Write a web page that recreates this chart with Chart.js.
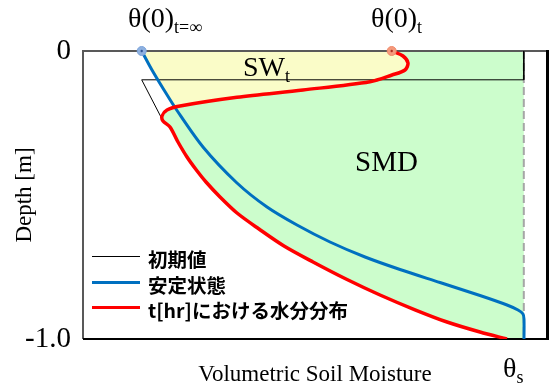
<!DOCTYPE html>
<html>
<head>
<meta charset="utf-8">
<script src="https://cdn.jsdelivr.net/npm/chart.js@4.4.1/dist/chart.umd.min.js"></script>
<style>
  body { margin: 0; background: #fff; }
  #wrap { position: relative; width: 549px; height: 389px; }
  .lbl { position: absolute; font-family: 'Liberation Serif', serif; font-size: 28px; line-height: 1; white-space: nowrap; color: #000; }
  .lbl .sub { font-size: 18px; position: relative; top: 6px; }
  #legend { position: absolute; left: 92px; top: 246px; font-family: 'Noto Sans CJK JP', sans-serif; font-weight: bold; font-size: 19.5px; color: #000; }
  #legend .row { height: 25.5px; display: flex; align-items: center; white-space: nowrap; }
  #legend .key { display: inline-block; width: 48px; margin-right: 8px; margin-top: -4px; }
</style>
</head>
<body>
<div id="wrap">
  <canvas id="chart" width="549" height="389"></canvas>
  <div class="lbl" style="left:128px; top:4px;">θ(0)<span class="sub">t=∞</span></div>
  <div class="lbl" style="left:371px; top:4px;">θ(0)<span class="sub">t</span></div>
  <div class="lbl" style="left:243px; top:53px;">SW<span class="sub">t</span></div>
  <div class="lbl" style="left:355px; top:147px; font-size:29px;">SMD</div>
  <div class="lbl" style="left:503px; top:354px;">θ<span class="sub">s</span></div>
  <div id="legend"></div>
</div>
<script>
// series names and colours
const seriesNames = ["初期値", "安定状態", "t[hr]における水分分布"];
const seriesColors = ["#000000", "#0070C0", "#FF0000"];
const seriesWidths = [1, 3, 3.5];

// axis
const depthTicks = [0, -1];
const depthTickLabels = ["0", "-1.0"];
const thetaS = 0.95;

// 初期値
const initialX = [0.95, 0.95, 0.1265, 0.168];
const initialY = [0, -0.1, -0.1, -0.229];

// 安定状態
const steadyX = [0.1265, 0.1487, 0.1746, 0.2019, 0.2586, 0.3319, 0.3966, 0.4612, 0.5323, 0.6078, 0.6832, 0.7694, 0.8556, 0.9138, 0.9375, 0.9483, 0.9504, 0.9504];
const steadyY = [0, -0.066, -0.1354, -0.2049, -0.3333, -0.4583, -0.5417, -0.6042, -0.6632, -0.7153, -0.7587, -0.8038, -0.8490, -0.8819, -0.8993, -0.9132, -0.9306, -1.0];

// t[hr]における水分分布
const currentX = [0.6653, 0.6897, 0.7004, 0.6940, 0.6659, 0.6185, 0.4741, 0.3319, 0.2091, 0.1810, 0.1703, 0.1724, 0.1875, 0.2047, 0.2241, 0.2435, 0.2651, 0.2953, 0.3319, 0.3793, 0.4332, 0.4957, 0.5668, 0.6401, 0.7155, 0.7845, 0.8556, 0.9138];
const currentY = [0, -0.0174, -0.0417, -0.0660, -0.0833, -0.1066, -0.1354, -0.1608, -0.1910, -0.2049, -0.2257, -0.2431, -0.2639, -0.3160, -0.3681, -0.4115, -0.4549, -0.5069, -0.5625, -0.6181, -0.6771, -0.7326, -0.7917, -0.8472, -0.8986, -0.9410, -0.9757, -1.0];

// where the two curves cross
const crossX = 0.1985;
const crossY = -0.196;

const pts = (xs, ys) => xs.map((x, i) => ({ x: x, y: ys[i] }));
const steady = pts(steadyX, steadyY);
const current = pts(currentX, currentY);
const cross = { x: crossX, y: crossY };

// SWt region: steady on the left, current profile on the right
const swPoly = steady.filter(p => p.y > crossY)
    .concat([cross, cross])
    .concat(current.filter(p => p.y > crossY).reverse());

// SMD region: right of the current profile up to theta_s
const smdPoly = current.concat([
    { x: thetaS, y: -1 }, { x: thetaS, y: -1 },
    { x: thetaS, y: 0 }, { x: thetaS, y: 0 },
]);

// legend
const legend = document.getElementById("legend");
seriesNames.forEach((name, i) => {
    const row = document.createElement("div");
    row.className = "row";
    row.innerHTML = `<span class="key" style="border-top:${seriesWidths[i]}px solid ${seriesColors[i]}"></span>${name}`;
    legend.appendChild(row);
});

// plot frame, drawn above the fills
const framePlugin = {
    id: "frame",
    afterDatasetDraw(chart, args) {
        if (chart.data.datasets[args.index].label !== "SMD") return;
        const { left, right, top, bottom } = chart.chartArea;
        const ctx = chart.ctx;
        ctx.save();
        ctx.lineWidth = 2;
        ctx.strokeStyle = "#595959";
        ctx.beginPath();
        ctx.moveTo(left, bottom);
        ctx.lineTo(left, top);
        ctx.lineTo(right, top);
        ctx.stroke();
        ctx.strokeStyle = "#000";
        ctx.beginPath();
        ctx.moveTo(left, bottom);
        ctx.lineTo(right, bottom);
        ctx.stroke();
        ctx.lineWidth = 3;
        ctx.beginPath();
        ctx.moveTo(right + 0.5, top - 1);
        ctx.lineTo(right + 0.5, bottom + 1);
        ctx.stroke();
        ctx.restore();
    }
};

const serif = "'Liberation Serif', serif";
const curveTension = 0.3;

new Chart(document.getElementById("chart"), {
    type: "scatter",
    data: {
        datasets: [
            {
                label: "SWt",
                data: swPoly,
                showLine: true,
                fill: "shape",
                backgroundColor: "#FAFCC8",
                borderWidth: 0,
                pointRadius: 0,
                tension: curveTension,
                order: 11,
            },
            {
                label: "SMD",
                data: smdPoly,
                showLine: true,
                fill: "shape",
                backgroundColor: "#CCFDCC",
                borderWidth: 0,
                pointRadius: 0,
                tension: curveTension,
                order: 10,
            },
            {
                label: "theta_s",
                data: [{ x: thetaS, y: 0 }, { x: thetaS, y: -1 }],
                showLine: true,
                borderColor: "#A6A6A6",
                borderWidth: 2,
                borderDash: [8, 4],
                pointRadius: 0,
                order: 8,
            },
            {
                label: seriesNames[0],
                data: pts(initialX, initialY),
                showLine: true,
                borderColor: seriesColors[0],
                borderWidth: seriesWidths[0],
                pointRadius: 0,
                order: 5,
            },
            {
                label: seriesNames[1],
                data: steady,
                showLine: true,
                borderColor: seriesColors[1],
                borderWidth: seriesWidths[1],
                pointRadius: 0,
                tension: curveTension,
                order: 4,
            },
            {
                label: seriesNames[2],
                data: current,
                showLine: true,
                borderColor: seriesColors[2],
                borderWidth: seriesWidths[2],
                pointRadius: 0,
                tension: curveTension,
                order: 3,
            },
            {
                label: "surface",
                data: [steady[0], current[0]],
                pointRadius: 4.5,
                pointBackgroundColor: ["#8EB1E0", "#F59A7C"],
                pointBorderColor: ["#7BA3DA", "#F08A6A"],
                pointBorderWidth: 1,
                clip: false,
                order: 2,
            },
            {
                label: "surface centre",
                data: [steady[0], current[0]],
                pointRadius: 1.2,
                pointBackgroundColor: ["#2F5597", "#B03020"],
                pointBorderWidth: 0,
                clip: false,
                order: 1,
            },
        ],
    },
    options: {
        responsive: false,
        animation: false,
        events: [],
        layout: { autoPadding: false, padding: { left: 0, right: 2, top: 51, bottom: 0 } },
        plugins: {
            legend: { display: false },
            tooltip: { enabled: false },
        },
        scales: {
            x: {
                type: "linear",
                min: 0,
                max: 1,
                grid: { display: false, drawTicks: false },
                border: { display: false },
                ticks: { display: false },
                title: {
                    display: true,
                    text: "Volumetric Soil Moisture",
                    color: "#000",
                    font: { family: serif, size: 23 },
                    padding: { top: 0, bottom: 0 },
                },
                afterFit: (scale) => { scale.height = 50; },
            },
            y: {
                min: -1,
                max: 0,
                grid: { display: false, drawTicks: false },
                border: { display: false },
                afterBuildTicks: (scale) => { scale.ticks = depthTicks.map(v => ({ value: v })); },
                ticks: {
                    color: "#000",
                    padding: 12,
                    font: { family: serif, size: 29 },
                    callback: (v) => depthTickLabels[depthTicks.indexOf(v)],
                },
                title: {
                    display: true,
                    text: "Depth [m]",
                    color: "#000",
                    font: { family: serif, size: 23 },
                    padding: { top: 11, bottom: 0 },
                },
                afterFit: (scale) => { scale.width = 83; },
            },
        },
    },
    plugins: [framePlugin],
});
</script>
</body>
</html>
